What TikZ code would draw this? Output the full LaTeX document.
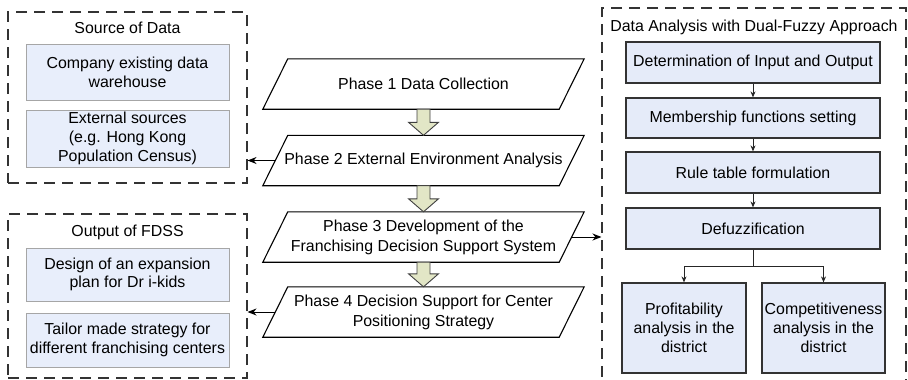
\documentclass[tikz,border=0pt]{standalone}
\usepackage{fontspec}
\setmainfont{Liberation Sans}
\usetikzlibrary{arrows.meta,calc}
\definecolor{lfill}{HTML}{E8EEFB}
\definecolor{rfill}{HTML}{E5EBF9}
\definecolor{afill}{HTML}{E2E6C6}
\begin{document}
\begin{tikzpicture}[x=1pt,y=-1pt,
  font=\fontsize{15.9}{18.7}\selectfont,
  container/.style={draw=black!80, dash pattern=on 11pt off 7pt, line width=1.1pt, inner sep=0pt},
  srcbox/.style={draw=black!35, fill=lfill, line width=0.6pt, minimum width=203pt, align=center, inner sep=0pt},
  fzbox/.style={draw=black!80, fill=rfill, line width=1.2pt, align=center, inner sep=0pt},
  phasenode/.style={minimum width=296pt, minimum height=50pt, align=center, inner sep=0pt},
  para/.style={draw=black, line width=1.1pt, line join=miter},
  blockarr/.style={draw=black!75, fill=afill, line width=0.9pt},
  sidearr/.style={draw=black, line width=1pt, -{Stealth[length=9pt,width=7pt]}},
  smallarr/.style={draw=black!85, line width=1pt, -{Stealth[length=6pt,width=5pt]}},
  titletext/.style={inner sep=0pt}
]
\clip (0,0) rectangle (908,380);

% containers
\node[container, minimum width=239pt, minimum height=171pt] (src) at (127.5,97.5) {};
\node[container, minimum width=239pt, minimum height=164pt] (out) at (127.5,296) {};
\node[container, minimum width=304pt, minimum height=384pt] (dfa) at (754,200) {};

% titles
\node[titletext] (srct) at (127.5,28) {Source of Data};
\node[titletext] (outt) at (127.5,232) {Output of FDSS};
\node[titletext] (dfat) at (754,27) {Data Analysis with Dual-Fuzzy Approach};

% source boxes
\node[srcbox, minimum height=56pt] (src1) at (127.5,72) {Company existing data\\warehouse};
\node[srcbox, minimum height=57pt] (src2) at (127.5,138.5) {External sources\\(e.g. Hong Kong\\Population Census)};

% output boxes
\node[srcbox, minimum height=53pt] (out1) at (127.5,274.5) {Design of an expansion\\plan for Dr i-kids};
\node[srcbox, minimum height=54pt] (out2) at (127.5,340) {Tailor made strategy for\\different franchising centers};

% phases
\node[phasenode] (p1) at (423.5,84) {Phase 1 Data Collection};
\node[phasenode] (p2) at (423.5,160.5) {Phase 2 External Environment Analysis};
\node[phasenode] (p3) at (423.5,237) {Phase 3 Development of the\\[1.2pt]Franchising Decision Support System};
\node[phasenode] (p4) at (423.5,312) {Phase 4 Decision Support for Center\\[1.2pt]Positioning Strategy};
\foreach \p in {p1,p2,p3,p4}{
  \draw[para] ([xshift=12.5pt]\p.north west) -- ([xshift=12.5pt]\p.north east)
    -- ([xshift=-12.5pt]\p.south east) -- ([xshift=-12.5pt]\p.south west) -- cycle;
}

% block arrows
\foreach \a/\b in {p1/p2,p2/p3,p3/p4}{
  \draw[blockarr] ([xshift=-6.5pt]\a.south) -- ([xshift=-6.5pt,yshift=13pt]\b.north)
    -- ([xshift=-15pt,yshift=13pt]\b.north) -- (\b.north)
    -- ([xshift=15pt,yshift=13pt]\b.north) -- ([xshift=6.5pt,yshift=13pt]\b.north)
    -- ([xshift=6.5pt]\a.south) -- cycle;
}

% side arrows
\draw[sidearr] (p2.west) -- (src.east |- p2.west);
\draw[sidearr] (p4.west) -- (out.east |- p4.west);
\draw[sidearr] (p3.east) -- (dfa.west |- p3.east);

% fuzzy boxes
\node[fzbox, minimum width=254pt, minimum height=41pt] (det) at (753,62.5) {Determination of Input and Output};
\node[fzbox, minimum width=254pt, minimum height=40pt] (mem) at (753,118) {Membership functions setting};
\node[fzbox, minimum width=254pt, minimum height=41pt] (rule) at (753,172.5) {Rule table formulation};
\node[fzbox, minimum width=254pt, minimum height=41pt] (defz) at (753,228.5) {Defuzzification};
\node[fzbox, minimum width=124pt, minimum height=90pt] (prof) at (684,328) {Profitability\\analysis in the\\district};
\node[fzbox, minimum width=123pt, minimum height=90pt] (comp) at (823.5,328) {Competitiveness\\analysis in the\\district};

\draw[smallarr] (det) -- (mem);
\draw[smallarr] (mem) -- (rule);
\draw[smallarr] (rule) -- (defz);
\coordinate (br) at ($(defz.south)+(0,17)$);
\draw[smallarr] (defz.south) -- (br) -| (prof.north);
\draw[smallarr] (br) -| (comp.north);
\end{tikzpicture}
\end{document}
